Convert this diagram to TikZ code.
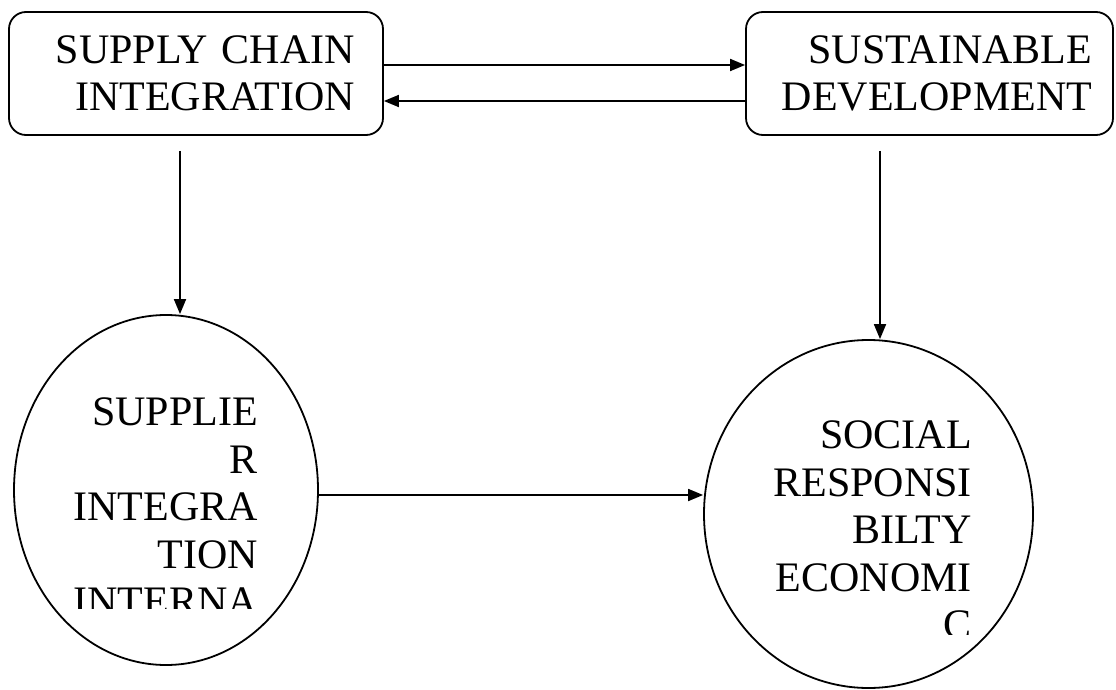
\documentclass[tikz,border=0pt]{standalone}
\usepackage{fontspec}
\setmainfont{Liberation Serif}
\usetikzlibrary{arrows.meta, shapes.geometric, positioning}

\begin{document}
\begin{tikzpicture}[x=1pt, y=-1pt,
  every node/.style={text=black, font=\fontsize{42}{47.5}\selectfont},
  arr/.style={-{Triangle[length=15pt, width=12pt]}, line width=1.8pt, draw=black},
  roundbox/.style={draw, line width=1.8pt, rounded corners=17pt,
                   minimum height=123pt, align=right},
  circblock/.style={draw, ellipse, line width=1.8pt, inner sep=0pt},
  circtext/.style={inner sep=0pt, align=right}]

  \useasboundingbox (0,0) rectangle (1116,690);

  %% ═══════════════════════════════════════════════════════════════
  %% TOP ROW: INTEGRATION <-> DEVELOPMENT
  %% ═══════════════════════════════════════════════════════════════

  \node[roundbox, text width=318pt, inner xsep=28pt] (sci) at (196,73.5)
      {SUPPLY CHAIN\\INTEGRATION};
  \node[roundbox, text width=325pt, inner xsep=21pt] (sd) at (929.5,73.5)
      {SUSTAINABLE\\DEVELOPMENT};

  \draw[arr] ([yshift=8.5pt]sci.east) -- ([yshift=8.5pt]sd.west);
  \draw[arr] ([yshift=-27.5pt]sd.west) -- ([yshift=-27.5pt]sci.east);

  %% ═══════════════════════════════════════════════════════════════
  %% BOTTOM ROW: CIRCLES
  %% ═══════════════════════════════════════════════════════════════

  \node[circblock, minimum width=304pt, minimum height=350pt] (supplier) at (166,490) {};
  \node[circblock, minimum width=329pt, minimum height=348pt] (social) at (868.5,514) {};

  % text runs past the bottom of its frame, so it is cut off
  \begin{scope}
    \clip (14,380) rectangle (318,608);
    \node[circtext, anchor=north east] (suptext) at (258,397.5)
        {SUPPLIE\\R\\INTEGRA\\TION\\INTERNA};
  \end{scope}
  \begin{scope}
    \clip (704,400) rectangle (1033,634);
    \node[circtext, anchor=north east] (soctext) at (972,420.5)
        {SOCIAL\\RESPONSI\\BILTY\\ECONOMI\\C};
  \end{scope}

  \draw[arr] ([xshift=-16pt, yshift=-15pt]sci.south) -- ([xshift=14pt]supplier.north);
  \draw[arr] ([xshift=-49.5pt, yshift=-15pt]sd.south) -- ([xshift=11.5pt]social.north);
  \draw[arr] ([yshift=-5pt]supplier.east) -- ([yshift=19pt]social.west);

\end{tikzpicture}
\end{document}
